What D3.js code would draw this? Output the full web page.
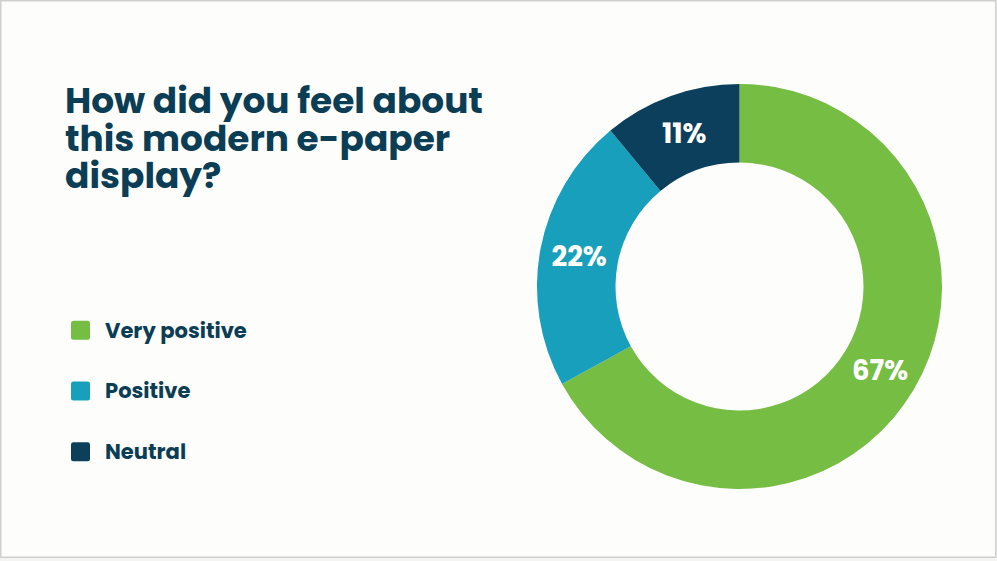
<!DOCTYPE html>
<html>
<head>
<meta charset="utf-8">
<script src="https://cdn.jsdelivr.net/npm/d3@7"></script>
<style>
  html, body { margin: 0; padding: 0; background: #f4f4f3; }
  svg { display: block; }
</style>
</head>
<body>
<svg id="chart" width="997" height="561"></svg>
<script>
// data
var categories = ["Very positive", "Positive", "Neutral"];
var values = [67, 22, 11];
var colors = ["#76bd43", "#189fbb", "#0b3f5c"];
var titleLines = ["How did you feel about", "this modern e-paper", "display?"];

var ink = "#0b3d55";
var font = "Poppins, Inter, 'Open Sans', sans-serif";

var svg = d3.select("#chart"),
    width = +svg.attr("width"),
    height = +svg.attr("height");

// card background + thin border
svg.append("rect")
    .attr("x", 0.75).attr("y", 0.75)
    .attr("width", 995).attr("height", 556.5)
    .attr("fill", "#fdfdfc")
    .attr("stroke", "#cfcfcf")
    .attr("stroke-width", 1.5);

// title
var title = svg.append("g").attr("transform", "translate(65,0)");
title.selectAll("text")
  .data(titleLines)
  .enter().append("text")
    .attr("x", 0)
    .attr("y", function(d, i) { return 113 + i * 37.5; })
    .attr("fill", ink)
    .attr("font-family", font)
    .attr("font-weight", 700)
    .attr("font-size", 34)
    .text(function(d) { return d; });

// fit first line to the width seen in the picture (~418px), same size for all
var w0 = title.select("text").node().getComputedTextLength();
var fs = 34 * 418 / w0;
title.selectAll("text").attr("font-size", fs);

// legend
var legend = svg.append("g").attr("transform", "translate(71,0)");
var row = d3.scaleBand().domain(categories).range([300, 482]).paddingInner(0);
var item = legend.selectAll(".item")
  .data(categories)
  .enter().append("g")
    .attr("class", "item")
    .attr("transform", function(d) { return "translate(0," + (row(d) + row.bandwidth() / 2) + ")"; });

item.append("rect")
    .attr("x", 0).attr("y", -9.5)
    .attr("width", 19).attr("height", 19)
    .attr("rx", 2.5)
    .attr("fill", function(d, i) { return colors[i]; });

item.append("text")
    .attr("x", 34)
    .attr("dy", "0.35em")
    .attr("fill", ink)
    .attr("font-family", font)
    .attr("font-weight", 700)
    .attr("font-size", 19)
    .text(function(d) { return d; });

var lw = item.select("text").node().getComputedTextLength();
item.selectAll("text").attr("font-size", 19 * 142 / lw);

// donut
var cx = 739.5, cy = 286.5, outer = 202.5, inner = 124;
var g = svg.append("g").attr("transform", "translate(" + cx + "," + cy + ")");

var pie = d3.pie().sort(null).value(function(d) { return d; });
var arc = d3.arc().outerRadius(outer).innerRadius(inner);

var slices = g.selectAll(".arc")
  .data(pie(values))
  .enter().append("g")
    .attr("class", "arc");

slices.append("path")
    .attr("d", arc)
    .attr("fill", function(d, i) { return colors[i]; });

slices.append("text")
    .attr("transform", function(d) { return "translate(" + arc.centroid(d) + ")"; })
    .attr("dy", "0.38em")
    .attr("text-anchor", "middle")
    .attr("fill", "#ffffff")
    .attr("font-family", font)
    .attr("font-weight", 700)
    .attr("font-size", 27.5)
    .text(function(d) { return d.data + "%"; });
</script>
</body>
</html>
